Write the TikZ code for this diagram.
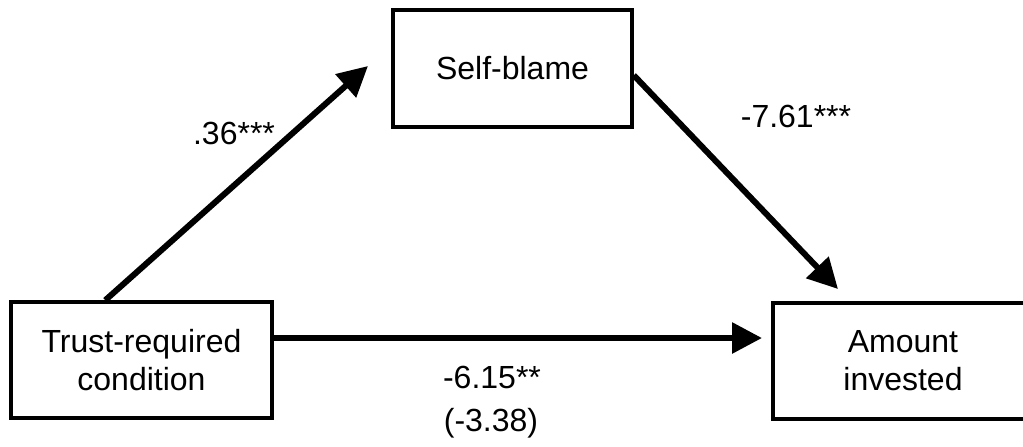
\documentclass[tikz,border=0pt]{standalone}
\usepackage{fontspec}
\setmainfont{Liberation Sans}
\usetikzlibrary{arrows.meta,calc}
\begin{document}
\begin{tikzpicture}[x=0.5pt,y=-0.5pt,
  box/.style={draw=black,line width=1.75pt,fill=white,align=center,inner sep=0pt,
    font=\fontsize{16}{19}\selectfont},
  conn/.style={line width=3pt,-{Triangle[length=15pt,width=15pt]}},
  lbl/.style={font=\fontsize{16}{19}\selectfont,inner sep=0pt}]
\useasboundingbox (0,0) rectangle (1023,446);
\node[box,minimum width=119.5pt,minimum height=58.5pt] (s) at (512.5,68.5) {Self-blame};
\node[box,minimum width=130.5pt,minimum height=58pt] (t) at (141.5,360) {Trust-required\\condition};
\node[box,minimum width=130pt,minimum height=58pt] (a) at (903,361) {Amount\\invested};
\coordinate (tip1) at (368,66);
\coordinate (tip2) at (838,289);
\coordinate (st1) at ($(t.north west)+(96,0)$);
\coordinate (st2) at ($(s.north east)+(0,67)$);
\draw[conn] (st1) -- (tip1);
\draw[conn] (st2) -- (tip2);
\draw[conn] (t.east |- 0,338) -- (762,338);
\node[lbl] (l1) at (234,133) {.36***};
\node[lbl] (l2) at (796,116) {-7.61***};
\node[lbl] (l3) at (492,377) {-6.15**};
\node[lbl] (l4) at (491,423) {(-3.38)};
\end{tikzpicture}
\end{document}
